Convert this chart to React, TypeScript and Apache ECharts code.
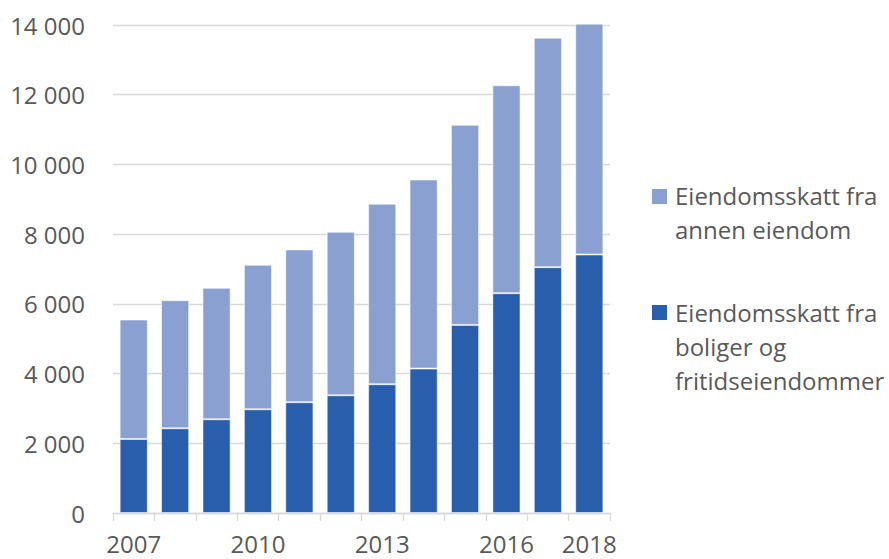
import React, { useEffect, useRef } from "react";
import * as echarts from "echarts";

const years = ["2007", "2008", "2009", "2010", "2011", "2012", "2013", "2014", "2015", "2016", "2017", "2018"];
const shownYearIdx = [0, 3, 6, 9, 11];
const boliger = [2124, 2431, 2689, 2976, 3177, 3378, 3694, 4144, 5397, 6306, 7053, 7416];
const annen = [3426, 3674, 3770, 4144, 4383, 4689, 5177, 5423, 5738, 5963, 6582, 6622];
const nameAnnen = "Eiendomsskatt fra\nannen eiendom";
const nameBoliger = "Eiendomsskatt fra\nboliger og\nfritidseiendommer";
const yTicks = { min: 0, max: 14000, interval: 2000 };

const DARK = "#285EAC";
const LIGHT = "#8AA0D1";
const TEXT = "#595959";
const FONT = "'Open Sans', sans-serif";

function fmt(v: number): string {
  const s = String(Math.round(v));
  return s.replace(/\B(?=(\d{3})+(?!\d))/g, " ");
}

export default function App() {
  const ref = useRef<HTMLDivElement>(null);
  useEffect(() => {
    if (!ref.current) return;
    const chart = echarts.init(ref.current, undefined, { renderer: "svg" });
    chart.setOption({
      animation: false,
      backgroundColor: "#ffffff",
      textStyle: { fontFamily: FONT },
      grid: { left: 113, right: 279, top: 25, bottom: 46, containLabel: false },
      xAxis: {
        type: "category",
        data: years,
        boundaryGap: true,
        axisLine: { show: true, lineStyle: { color: "#d9d9d9", width: 1.3 } },
        axisTick: { show: true, interval: 0, length: 8, lineStyle: { color: "#d9d9d9", width: 1.3 } },
        axisLabel: {
          interval: (i: number) => shownYearIdx.includes(i),
          color: TEXT,
          fontSize: 24,
          lineHeight: 18,
          fontFamily: FONT,
          margin: 21,
        },
        splitLine: { show: false },
      },
      yAxis: {
        type: "value",
        min: yTicks.min,
        max: yTicks.max,
        interval: yTicks.interval,
        axisLine: { show: false },
        axisTick: { show: false },
        axisLabel: {
          color: TEXT,
          fontSize: 24,
          fontFamily: FONT,
          margin: 28,
          formatter: (v: number) => fmt(v),
        },
        splitLine: { show: true, lineStyle: { color: "#d9d9d9", width: 1.3 } },
      },
      series: [
        {
          name: nameBoliger,
          type: "bar",
          stack: "total",
          data: boliger,
          barCategoryGap: "32%",
          clip: false,
          itemStyle: { color: DARK, borderColor: "rgba(255,255,255,0.55)", borderWidth: 1 },
        },
        {
          name: nameAnnen,
          type: "bar",
          stack: "total",
          data: annen,
          barCategoryGap: "32%",
          clip: false,
          itemStyle: { color: LIGHT, borderColor: "rgba(255,255,255,0.55)", borderWidth: 1 },
        },
      ],
      graphic: [
        { type: "rect", left: 652, top: 189, shape: { width: 15, height: 15 }, style: { fill: LIGHT } },
        {
          type: "text",
          x: 675,
          y: 178.7,
          style: { text: nameAnnen, font: `24px ${FONT}`, fill: TEXT, lineHeight: 34, verticalAlign: "top", align: "left" },
        },
        { type: "rect", left: 652, top: 305, shape: { width: 15, height: 15 }, style: { fill: DARK } },
        {
          type: "text",
          x: 675,
          y: 295.3,
          style: { text: nameBoliger, font: `24px ${FONT}`, fill: TEXT, lineHeight: 34, verticalAlign: "top", align: "left" },
        },
      ],
    });
    return () => chart.dispose();
  }, []);
  return <div ref={ref} style={{ position: "fixed", left: 0, top: 0, width: 889, height: 559, background: "#fff" }} />;
}
